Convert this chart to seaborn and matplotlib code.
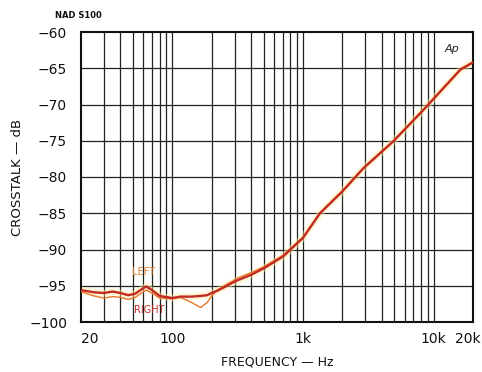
import numpy as np
import pandas as pd
import matplotlib
matplotlib.use("Agg")
import matplotlib.pyplot as plt
import matplotlib.transforms as mtrans
import seaborn as sns

# ---- data ----
freq_hz = [20, 25, 30, 35, 40, 46, 52, 58, 63, 70, 80, 100, 115, 140, 165, 185,
           200, 220, 250, 280, 320, 400, 500, 700, 1000, 1350, 2000, 2900, 4900,
           8300, 10500, 16000, 20000]
left_db = [-95.6, -95.9, -96.0, -95.8, -96.0, -96.3, -96.1, -95.5, -95.1, -95.6,
           -96.4, -96.7, -96.5, -96.5, -96.4, -96.3, -96.0, -95.7, -95.2, -94.7,
           -94.2, -93.5, -92.6, -91.0, -88.4, -85.0, -82.0, -78.8, -75.1, -70.8,
           -68.8, -65.2, -64.2]
right_db = [-95.8, -96.4, -96.7, -96.5, -96.6, -96.9, -96.6, -96.0, -95.6, -96.0,
            -96.7, -96.8, -96.6, -97.3, -98.0, -97.3, -96.4, -95.6, -95.0, -94.5,
            -93.9, -93.2, -92.4, -90.8, -88.3, -84.9, -81.9, -78.7, -75.0, -70.7,
            -68.7, -65.1, -64.1]
y_ticks = [-60, -65, -70, -75, -80, -85, -90, -95, -100]
x_ticks = [20, 100, 1000, 10000, 20000]
x_tick_labels = ["20", "100", "1k", "10k", "20k"]

df = pd.DataFrame({"freq": freq_hz + freq_hz,
                   "db": left_db + right_db,
                   "channel": ["LEFT"] * len(freq_hz) + ["RIGHT"] * len(freq_hz)})

sns.set_style("white")
plt.rcParams["font.family"] = ["DejaVu Sans"]

fig = plt.figure(figsize=(4.82, 3.72), dpi=100)
ax = fig.add_axes([81 / 482, 1 - 322 / 372, (473 - 81) / 482, (322 - 32) / 372])

# yellow highlight halo
sns.lineplot(data=df[df.channel == "LEFT"], x="freq", y="db", ax=ax,
             color="#fbeea0", linewidth=5, alpha=0.45, legend=False, zorder=2)
sns.lineplot(data=df[df.channel == "RIGHT"], x="freq", y="db", ax=ax,
             color="#e8772a", linewidth=1.0, legend=False, zorder=3)
sns.lineplot(data=df[df.channel == "LEFT"], x="freq", y="db", ax=ax,
             color="#c42a25", linewidth=1.7, legend=False, zorder=4)

ax.set_xscale("log")
ax.set_xlim(20, 20000)
ax.set_ylim(-100, -60)

# grid
grid_c = "#1c241c"
for dec in [10, 100, 1000, 10000]:
    for m in range(1, 10):
        f = dec * m
        if 20 < f < 20000:
            ax.axvline(f, color=grid_c, linewidth=0.9, zorder=1)
for yv in y_ticks:
    if -100 < yv < -60:
        ax.axhline(yv, color=grid_c, linewidth=0.9, zorder=1)

ax.set_xticks(x_ticks)
ax.set_xticklabels(x_tick_labels)
ax.xaxis.set_minor_locator(matplotlib.ticker.NullLocator())
ax.set_yticks(y_ticks)
ax.set_yticklabels([f"\u2212{abs(v)}" for v in y_ticks])
ax.tick_params(axis="both", length=0, labelsize=10, colors="#111111")
ax.tick_params(axis="x", pad=7)
ax.tick_params(axis="y", pad=10)
xl = ax.get_xticklabels()
xl[0].set_ha("left")
xl[-1].set_transform(xl[-1].get_transform() +
                     mtrans.ScaledTranslation(-5 / 100, 0, fig.dpi_scale_trans))

for s in ax.spines.values():
    s.set_visible(True)
    s.set_color("#111111")
    s.set_linewidth(1.5)

ax.set_xlabel("FREQUENCY \u2014 Hz", fontsize=9, labelpad=7, color="#111111")
ax.set_ylabel("CROSSTALK \u2014 dB", fontsize=9.5, labelpad=4, color="#111111")

fig.text(55 / 482, 1 - 15 / 372, "NAD S100", fontsize=6, fontweight="bold",
         va="center", ha="left", color="#111111")
ax.text(0.965, 0.96, "Ap", transform=ax.transAxes, fontsize=8, style="italic",
        ha="right", va="top", color="#222222")
ax.text(60, -93.1, "LEFT", fontsize=7, color="#e0802a", ha="center", va="center")
ax.text(67, -98.35, "RIGHT", fontsize=7, color="#c8302a", ha="center", va="center")

fig.savefig("out.png", dpi=100)
